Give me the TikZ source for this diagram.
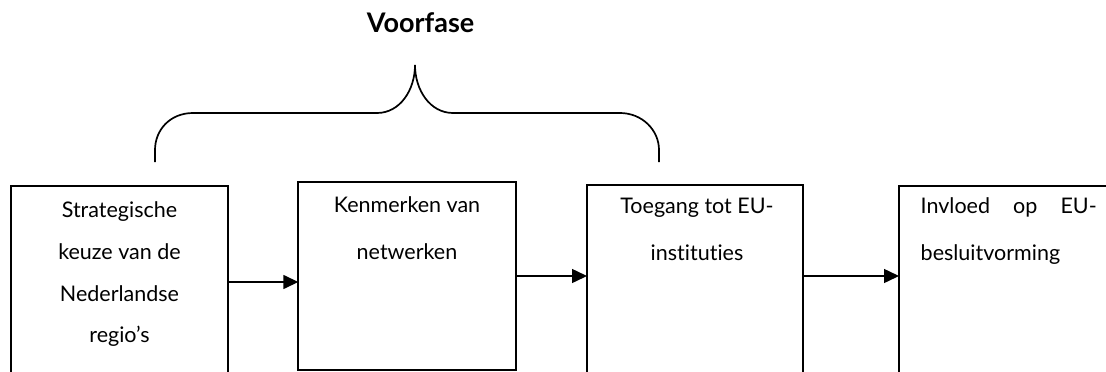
\documentclass[tikz,border=0pt]{standalone}
\usepackage{fontspec}
\setmainfont{Lato}[Ligatures=NoCommon]
\usetikzlibrary{arrows.meta}
\begin{document}
\begin{tikzpicture}[x=1pt,y=-1pt,
  stage/.style={draw, line width=1.7pt, inner sep=0pt, outer sep=0pt, minimum width=217pt},
  flow/.style={line width=1.5pt, -{Triangle[length=15pt,width=14pt]}},
  bracket/.style={line width=1.7pt},
  txt/.style={inner sep=0pt, outer sep=0pt}]
\useasboundingbox (0,0) rectangle (1106,372);
\clip (0,0) rectangle (1106,372);

% the four stages
\node[stage, minimum height=234pt] (b1) at (119.5,303) {};
\node[stage, minimum width=217.4pt, minimum height=188pt] (b2) at (407,276) {};
\node[stage, minimum width=216pt, minimum height=235pt] (b3) at (695,302.5) {};
\node[stage, minimum width=241pt, minimum height=234pt] (b4) at (1019.5,303) {};

% stage texts
\node[txt, anchor=base, font=\fontsize{21.5}{41.7}\selectfont] (t1) at (119.5,217.7)
  {\parbox[t]{210pt}{\centering Strategische\\keuze van de\\Nederlandse\\regio’s}};
\node[txt, anchor=base, font=\fontsize{21.5}{47}\selectfont] (t2) at (407,212.3)
  {\parbox[t]{210pt}{\centering Kenmerken van\\netwerken}};
\node[txt, anchor=base, font=\fontsize{21.5}{46.7}\selectfont] (t3) at (697,213.3)
  {\parbox[t]{210pt}{\centering Toegang tot EU-\\instituties}};
\node[txt, anchor=base west, font=\fontsize{21.5}{46.7}\selectfont] (t4) at (920.7,213.3)
  {\parbox[t]{176pt}{\makebox[176pt][s]{Invloed op EU-}\\besluitvorming}};

% connectors
\draw[flow] (b1.east |- 0,282) -- (b2.west |- 0,282);
\draw[flow] (b2.east) -- (b3.west |- b2.east);
\draw[flow] (b3.east |- b2.east) -- (b4.west |- b2.east);

% curly bracket over the first three stages
\node[txt, anchor=base, font=\bfseries\fontsize{27}{32}\selectfont] (title) at (420.6,32) {Voorfase};
\draw[bracket] (415,65) .. controls (415,90) and (400,113) .. (377,113) -- (193,113)
  .. controls (170,113) and (155,130) .. (155,150) -- (155,162);
\draw[bracket] (415,65) .. controls (415,90) and (430,113) .. (453,113) -- (620,113)
  .. controls (642,113) and (659,130) .. (659,150) -- (659,162);
\end{tikzpicture}
\end{document}
